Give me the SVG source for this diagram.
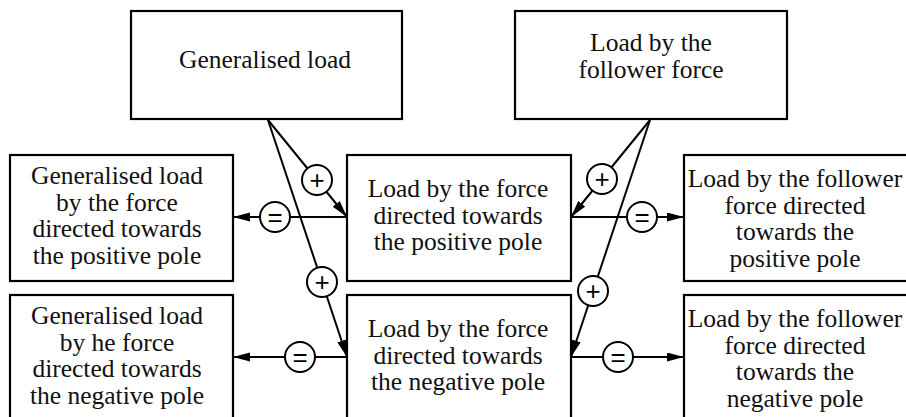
<svg xmlns="http://www.w3.org/2000/svg" width="906" height="417" viewBox="0 0 906 417">
  <style>
    .box { fill: #fff; stroke: #000; stroke-width: 2.2; }
    .lbl { font-family: "Liberation Serif", "Times New Roman", serif; font-size: 25.5px; fill: #111; text-anchor: middle; }
    .ln { stroke: #000; stroke-width: 2; fill: none; }
    .arr { marker-end: url(#head); }
    .op { fill: #fff; stroke: #000; stroke-width: 2; }
    .sym { font-family: "Liberation Sans", Arial, sans-serif; font-size: 26px; fill: #000; text-anchor: middle; }
  </style>
  <defs>
    <marker id="head" markerUnits="userSpaceOnUse" markerWidth="18" markerHeight="10" refX="17" refY="4.5" orient="auto">
      <path d="M0,0 L17,4.5 L0,9 z" fill="#000"/>
    </marker>
  </defs>
  <rect width="906" height="417" fill="#fff"/>

  <!-- nodes -->
  <g id="generalised-load">
    <rect class="box" x="131" y="11" width="271" height="108"/>
    <text class="lbl" x="265" y="68">Generalised load</text>
  </g>
  <g id="follower-load">
    <rect class="box" x="515" y="11" width="272" height="108"/>
    <text class="lbl" x="651" y="51">Load by the</text>
    <text class="lbl" x="651" y="77.5">follower force</text>
  </g>
  <g id="generalised-positive">
    <rect class="box" x="10" y="155" width="223" height="126"/>
    <text class="lbl" x="117" y="184">Generalised load</text>
    <text class="lbl" x="117" y="210.5">by the force</text>
    <text class="lbl" x="117" y="237">directed towards</text>
    <text class="lbl" x="117" y="263.5">the positive pole</text>
  </g>
  <g id="force-positive">
    <rect class="box" x="347" y="155" width="224" height="126"/>
    <text class="lbl" x="458" y="197">Load by the force</text>
    <text class="lbl" x="458" y="223.5">directed towards</text>
    <text class="lbl" x="458" y="250">the positive pole</text>
  </g>
  <g id="follower-positive">
    <rect class="box" x="684" y="155" width="240" height="126"/>
    <text class="lbl" x="795" y="187">Load by the follower</text>
    <text class="lbl" x="795" y="213.5">force directed</text>
    <text class="lbl" x="795" y="240">towards the</text>
    <text class="lbl" x="795" y="266.5">positive pole</text>
  </g>
  <g id="generalised-negative">
    <rect class="box" x="10" y="295" width="223" height="140"/>
    <text class="lbl" x="117" y="324">Generalised load</text>
    <text class="lbl" x="117" y="350.5">by he force</text>
    <text class="lbl" x="117" y="377">directed towards</text>
    <text class="lbl" x="117" y="403.5">the negative pole</text>
  </g>
  <g id="force-negative">
    <rect class="box" x="347" y="295" width="224" height="140"/>
    <text class="lbl" x="458" y="337">Load by the force</text>
    <text class="lbl" x="458" y="363.5">directed towards</text>
    <text class="lbl" x="458" y="390">the negative pole</text>
  </g>
  <g id="follower-negative">
    <rect class="box" x="684" y="295" width="240" height="140"/>
    <text class="lbl" x="795" y="327">Load by the follower</text>
    <text class="lbl" x="795" y="353.5">force directed</text>
    <text class="lbl" x="795" y="380">towards the</text>
    <text class="lbl" x="795" y="406.5">negative pole</text>
  </g>

  <!-- connectors -->
  <g id="connectors">
    <line class="ln arr" x1="268" y1="120" x2="347" y2="217"/>
    <line class="ln arr" x1="268" y1="120" x2="347" y2="357"/>
    <line class="ln arr" x1="347" y1="217" x2="233" y2="217"/>
    <line class="ln arr" x1="347" y1="357" x2="233" y2="357"/>
    <line class="ln arr" x1="650" y1="120" x2="571" y2="217"/>
    <line class="ln arr" x1="650" y1="120" x2="571" y2="357"/>
    <line class="ln arr" x1="571" y1="217" x2="684" y2="217"/>
    <line class="ln arr" x1="571" y1="357" x2="684" y2="357"/>

    <circle class="op" cx="317" cy="180" r="15"/>
    <text class="sym" x="317" y="189">+</text>
    <circle class="op" cx="322" cy="282" r="15"/>
    <text class="sym" x="322" y="291">+</text>
    <circle class="op" cx="602" cy="179" r="15"/>
    <text class="sym" x="602" y="188">+</text>
    <circle class="op" cx="593" cy="291" r="15"/>
    <text class="sym" x="593" y="300">+</text>

    <circle class="op" cx="275" cy="217" r="15"/>
    <text class="sym" x="275" y="226">=</text>
    <circle class="op" cx="300" cy="357" r="15"/>
    <text class="sym" x="300" y="366">=</text>
    <circle class="op" cx="642" cy="217" r="15"/>
    <text class="sym" x="642" y="226">=</text>
    <circle class="op" cx="618" cy="357" r="15"/>
    <text class="sym" x="618" y="366">=</text>
  </g>
</svg>
